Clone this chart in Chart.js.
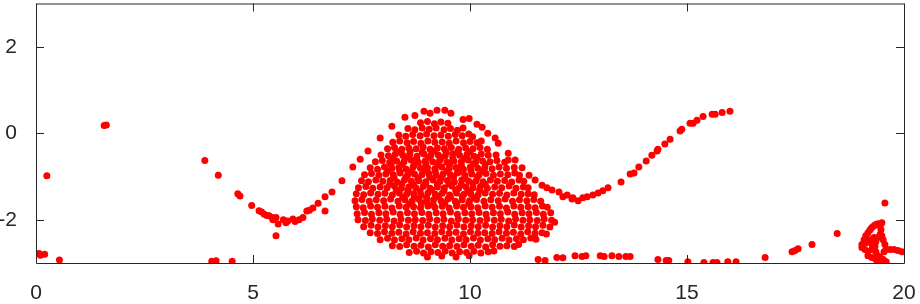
<!DOCTYPE html>
<html lang="en">
<head>
<meta charset="UTF-8">
<title>Scatter</title>
<script src="https://cdn.jsdelivr.net/npm/chart.js@4.4.1/dist/chart.umd.min.js"></script>
<style>
  body { margin: 0; background: #fff; }
  canvas { display: block; }
</style>
</head>
<body>
<canvas id="plot" width="920" height="304"></canvas>
<script>
// tick labels
const xTicks = [0, 5, 10, 15, 20];
const yTicks = [-2, 0, 2];

// stray points on the left
const leftPts = [
  [0.07,-2.78],[0.1,-2.82],[0.2,-2.8],[0.25,-0.98],[0.54,-2.93],[1.57,0.18],[1.62,0.19],
  [3.89,-0.63],[4.2,-0.97],[4.05,-2.96],[4.15,-2.95],[4.52,-2.96]
];

// the wavy trail: valley, arc over the blob, rise to the right
const trailPts = [
  [4.65,-1.4],[4.7,-1.45],[4.97,-1.67],[5.14,-1.79],[5.2,-1.82],[5.26,-1.87],[5.32,-1.9],[5.37,-1.91],
  [5.44,-1.95],[5.46,-2.0],[5.53,-1.95],[5.53,-2.37],[5.58,-2.1],[5.7,-2.0],[5.76,-2.07],[5.8,-2.03],
  [5.92,-1.98],[5.97,-2.04],[6.06,-2.0],[6.15,-1.95],[6.24,-1.8],[6.3,-1.78],[6.38,-1.73],[6.5,-1.62],
  [6.66,-1.47],[6.82,-1.36],[6.66,-1.8],[7.05,-1.1],[7.3,-0.78],[7.47,-0.6],[7.65,-0.41],[7.93,-0.11],
  [8.2,0.16],[8.5,0.37],[8.73,0.41],[8.94,0.51],[9.08,0.46],[9.24,0.53],[9.42,0.53],[9.56,0.46],
  [9.84,0.32],[9.98,0.34],[10.16,0.21],[10.28,0.14],[10.41,0.0],[10.58,-0.11],[10.65,-0.23],[10.88,-0.46],
  [11.04,-0.62],[11.2,-0.8],[11.36,-0.97],[11.5,-1.08],[11.66,-1.2],[11.77,-1.26],[11.89,-1.31],[12.05,-1.36],
  [12.14,-1.47],[12.24,-1.43],[12.35,-1.52],[12.37,-1.49],[12.49,-1.56],[12.6,-1.49],[12.7,-1.47],[12.83,-1.43],
  [12.95,-1.38],[13.06,-1.33],[13.18,-1.26],[13.48,-1.13],[13.69,-0.94],[13.78,-0.92],[13.89,-0.78],[14.06,-0.64],
  [14.19,-0.51],[14.31,-0.41],[14.33,-0.37],[14.49,-0.25],[14.61,-0.14],[14.84,0.05],[14.88,0.09],[15.07,0.23],
  [15.14,0.23],[15.23,0.3],[15.37,0.39],[15.58,0.44],[15.65,0.44],[15.81,0.48],[15.99,0.51]
];

// points hugging the bottom edge, right half
const bottomPts = [
  [11.57,-2.92],[11.73,-2.94],[12.0,-2.87],[12.14,-2.88],[12.42,-2.83],[12.58,-2.85],[12.67,-2.83],[13.0,-2.83],
  [13.09,-2.85],[13.27,-2.83],[13.43,-2.85],[13.59,-2.85],[13.69,-2.85],[14.33,-2.92],[14.52,-2.94],[14.58,-2.94],
  [15.02,-2.97],[15.39,-2.99],[15.6,-2.99],[15.69,-2.99],[15.94,-2.97],[16.13,-2.97],[16.8,-2.87],[17.42,-2.74],
  [17.49,-2.71],[17.56,-2.67],[17.88,-2.57],[18.46,-2.32],[19.56,-1.61]
];

// small knot near x = 19.5
const knotPts = [
  [19.03,-2.57],[19.08,-2.46],[19.12,-2.37],[19.17,-2.3],[19.22,-2.23],[19.26,-2.18],[19.31,-2.14],[19.35,-2.11],
  [19.4,-2.09],[19.45,-2.14],[19.47,-2.23],[19.45,-2.34],[19.4,-2.41],[19.35,-2.51],[19.33,-2.62],[19.35,-2.74],
  [19.4,-2.83],[19.45,-2.87],[19.52,-2.92],[19.59,-2.97],[19.26,-2.69],[19.17,-2.74],[19.1,-2.69],[19.03,-2.64],
  [19.12,-2.53],[19.22,-2.46],[19.31,-2.41],[19.26,-2.57],[19.17,-2.83],[19.26,-2.87],[19.35,-2.92],[19.45,-2.97],
  [19.54,-2.74],[19.59,-2.69],[19.68,-2.69],[19.77,-2.69],[19.86,-2.71],[19.95,-2.74],[19.56,-2.57],[19.52,-2.46],
  [19.49,-2.37],[19.49,-2.07]
];

// the big dense cloud, read row by row
const blobPts = [
  [8.86,0.24],[9.02,0.27],[9.18,0.22],[9.33,0.26],[9.49,0.23],
  [8.57,0.11],[8.73,0.08],[8.9,0.12],[9.06,0.09],[9.22,0.12],[9.4,0.08],[9.55,0.11],[9.71,0.07],[9.84,0.12],
  [8.36,-0.04],[8.52,-0.07],[8.68,-0.03],[8.85,-0.06],[9.0,-0.02],[9.17,-0.06],[9.33,-0.04],[9.5,-0.07],[9.66,-0.03],[9.82,-0.06],[9.97,-0.02],[10.06,-0.08],
  [8.22,-0.21],[8.38,-0.18],[8.55,-0.22],[8.7,-0.19],[8.87,-0.23],[9.03,-0.18],[9.19,-0.21],[9.36,-0.2],[9.52,-0.23],[9.68,-0.18],[9.85,-0.22],[10.0,-0.19],[10.16,-0.22],[10.26,-0.18],
  [8.1,-0.36],[8.26,-0.33],[8.43,-0.37],[8.59,-0.34],[8.76,-0.36],[8.92,-0.32],[9.08,-0.37],[9.25,-0.34],[9.41,-0.36],[9.57,-0.33],[9.74,-0.37],[9.9,-0.34],[10.07,-0.36],[10.23,-0.33],[10.4,-0.37],
  [7.95,-0.5],[8.12,-0.52],[8.28,-0.48],[8.45,-0.51],[8.61,-0.49],[8.78,-0.53],[8.94,-0.48],[9.1,-0.51],[9.27,-0.5],[9.43,-0.52],[9.6,-0.48],[9.76,-0.51],[9.93,-0.49],[10.09,-0.53],[10.26,-0.48],[10.42,-0.51],[10.6,-0.5],
  [7.82,-0.66],[7.98,-0.63],[8.15,-0.67],[8.31,-0.64],[8.48,-0.66],[8.64,-0.62],[8.81,-0.67],[8.97,-0.64],[9.14,-0.66],[9.3,-0.63],[9.47,-0.67],[9.63,-0.64],[9.8,-0.66],[9.96,-0.62],[10.13,-0.67],[10.29,-0.64],[10.46,-0.66],[10.62,-0.63],[10.8,-0.67],[10.88,-0.62],
  [7.7,-0.8],[7.87,-0.83],[8.03,-0.78],[8.2,-0.81],[8.36,-0.79],[8.53,-0.83],[8.69,-0.78],[8.86,-0.81],[9.02,-0.8],[9.19,-0.82],[9.35,-0.78],[9.52,-0.81],[9.68,-0.79],[9.85,-0.83],[10.01,-0.78],[10.18,-0.81],[10.34,-0.8],[10.51,-0.82],[10.67,-0.78],[10.84,-0.81],[11.02,-0.79],
  [7.57,-0.96],[7.73,-0.93],[7.9,-0.97],[8.06,-0.94],[8.23,-0.96],[8.39,-0.92],[8.56,-0.97],[8.72,-0.94],[8.89,-0.96],[9.05,-0.93],[9.22,-0.97],[9.38,-0.94],[9.55,-0.96],[9.71,-0.92],[9.88,-0.97],[10.04,-0.94],[10.21,-0.96],[10.37,-0.93],[10.54,-0.97],[10.7,-0.94],[10.87,-0.96],[11.03,-0.92],[11.14,-0.97],
  [7.5,-1.1],[7.66,-1.12],[7.83,-1.08],[7.99,-1.11],[8.16,-1.09],[8.32,-1.13],[8.49,-1.08],[8.65,-1.11],[8.82,-1.1],[8.98,-1.12],[9.15,-1.08],[9.31,-1.11],[9.48,-1.09],[9.64,-1.13],[9.81,-1.08],[9.97,-1.11],[10.14,-1.1],[10.3,-1.12],[10.47,-1.08],[10.63,-1.11],[10.8,-1.09],[10.96,-1.13],[11.13,-1.08],[11.24,-1.11],
  [7.43,-1.26],[7.6,-1.23],[7.76,-1.27],[7.93,-1.24],[8.09,-1.26],[8.26,-1.22],[8.42,-1.27],[8.59,-1.24],[8.75,-1.26],[8.92,-1.23],[9.08,-1.27],[9.25,-1.24],[9.41,-1.26],[9.58,-1.22],[9.74,-1.27],[9.91,-1.24],[10.07,-1.26],[10.24,-1.23],[10.4,-1.27],[10.57,-1.24],[10.73,-1.26],[10.9,-1.22],[11.06,-1.27],[11.23,-1.24],[11.34,-1.26],
  [7.38,-1.4],[7.55,-1.42],[7.71,-1.38],[7.88,-1.41],[8.04,-1.39],[8.21,-1.43],[8.37,-1.38],[8.54,-1.41],[8.7,-1.4],[8.87,-1.42],[9.03,-1.38],[9.2,-1.41],[9.36,-1.39],[9.53,-1.43],[9.69,-1.38],[9.86,-1.41],[10.02,-1.4],[10.19,-1.42],[10.35,-1.38],[10.52,-1.41],[10.68,-1.39],[10.85,-1.43],[11.01,-1.38],[11.18,-1.41],[11.34,-1.4],[11.48,-1.42],
  [7.35,-1.56],[7.51,-1.53],[7.68,-1.57],[7.84,-1.54],[8.01,-1.56],[8.17,-1.52],[8.34,-1.57],[8.5,-1.54],[8.67,-1.56],[8.83,-1.53],[9.0,-1.57],[9.16,-1.54],[9.33,-1.56],[9.49,-1.52],[9.66,-1.57],[9.82,-1.54],[9.99,-1.56],[10.15,-1.53],[10.32,-1.57],[10.48,-1.54],[10.65,-1.56],[10.81,-1.52],[10.98,-1.57],[11.14,-1.54],[11.31,-1.56],[11.47,-1.53],[11.63,-1.57],
  [7.38,-1.7],[7.54,-1.72],[7.71,-1.68],[7.87,-1.71],[8.04,-1.69],[8.2,-1.73],[8.37,-1.68],[8.53,-1.71],[8.7,-1.7],[8.86,-1.72],[9.03,-1.68],[9.19,-1.71],[9.36,-1.69],[9.52,-1.73],[9.69,-1.68],[9.85,-1.71],[10.02,-1.7],[10.18,-1.72],[10.35,-1.68],[10.51,-1.71],[10.68,-1.69],[10.84,-1.73],[11.01,-1.68],[11.17,-1.71],[11.34,-1.7],[11.5,-1.72],[11.67,-1.68],[11.78,-1.71],
  [7.4,-1.86],[7.57,-1.83],[7.73,-1.87],[7.9,-1.84],[8.06,-1.86],[8.23,-1.82],[8.39,-1.87],[8.56,-1.84],[8.72,-1.86],[8.89,-1.83],[9.05,-1.87],[9.22,-1.84],[9.38,-1.86],[9.55,-1.82],[9.71,-1.87],[9.88,-1.84],[10.04,-1.86],[10.21,-1.83],[10.37,-1.87],[10.54,-1.84],[10.7,-1.86],[10.87,-1.82],[11.03,-1.87],[11.2,-1.84],[11.36,-1.86],[11.53,-1.83],[11.69,-1.87],[11.86,-1.84],
  [7.42,-2.0],[7.59,-2.02],[7.75,-1.98],[7.92,-2.01],[8.08,-1.99],[8.25,-2.03],[8.41,-1.98],[8.58,-2.01],[8.74,-2.0],[8.91,-2.02],[9.07,-1.98],[9.24,-2.01],[9.4,-1.99],[9.57,-2.03],[9.73,-1.98],[9.9,-2.01],[10.06,-2.0],[10.23,-2.02],[10.39,-1.98],[10.56,-2.01],[10.72,-1.99],[10.89,-2.03],[11.05,-1.98],[11.22,-2.01],[11.38,-2.0],[11.55,-2.02],[11.71,-1.98],[11.88,-2.01],[11.95,-2.06],
  [7.55,-2.16],[7.72,-2.13],[7.88,-2.17],[8.05,-2.14],[8.21,-2.16],[8.38,-2.12],[8.54,-2.17],[8.71,-2.14],[8.87,-2.16],[9.04,-2.13],[9.2,-2.17],[9.37,-2.14],[9.53,-2.16],[9.7,-2.12],[9.86,-2.17],[10.03,-2.14],[10.19,-2.16],[10.36,-2.13],[10.52,-2.17],[10.69,-2.14],[10.85,-2.16],[11.02,-2.12],[11.18,-2.17],[11.35,-2.14],[11.51,-2.16],[11.68,-2.13],[11.84,-2.17],
  [7.7,-2.3],[7.87,-2.32],[8.03,-2.28],[8.2,-2.31],[8.36,-2.29],[8.53,-2.33],[8.69,-2.28],[8.86,-2.31],[9.02,-2.3],[9.19,-2.32],[9.35,-2.28],[9.52,-2.31],[9.68,-2.29],[9.85,-2.33],[10.01,-2.28],[10.18,-2.31],[10.34,-2.3],[10.51,-2.32],[10.67,-2.28],[10.84,-2.31],[11.0,-2.29],[11.17,-2.33],[11.33,-2.28],[11.5,-2.31],[11.66,-2.3],[11.76,-2.33],
  [7.93,-2.46],[8.1,-2.43],[8.26,-2.47],[8.43,-2.44],[8.59,-2.46],[8.76,-2.42],[8.92,-2.47],[9.09,-2.44],[9.25,-2.46],[9.42,-2.43],[9.58,-2.47],[9.75,-2.44],[9.91,-2.46],[10.08,-2.42],[10.24,-2.47],[10.41,-2.44],[10.57,-2.46],[10.74,-2.43],[10.9,-2.47],[11.07,-2.44],[11.23,-2.46],[11.4,-2.42],[11.52,-2.45],
  [8.21,-2.6],[8.38,-2.62],[8.54,-2.58],[8.71,-2.61],[8.87,-2.59],[9.04,-2.63],[9.2,-2.58],[9.37,-2.61],[9.53,-2.6],[9.7,-2.62],[9.86,-2.58],[10.03,-2.61],[10.19,-2.59],[10.36,-2.63],[10.52,-2.58],[10.69,-2.61],[10.85,-2.6],[11.02,-2.62],[11.12,-2.57],
  [8.6,-2.76],[8.77,-2.73],[8.93,-2.77],[9.1,-2.74],[9.26,-2.76],[9.43,-2.72],[9.59,-2.77],[9.76,-2.74],[9.92,-2.76],[10.09,-2.73],[10.25,-2.77],[10.42,-2.74],[10.55,-2.72],
  [9.02,-2.86],[9.35,-2.84],[9.68,-2.86],[9.98,-2.83]
];

// extra points where the cloud is solid (around x 8.3-10.4)
const corePts = [
  [8.35,-0.43],[8.62,-0.42],[8.9,-0.44],[9.17,-0.41],[9.45,-0.44],[9.72,-0.42],[10.0,-0.43],
  [8.22,-0.58],[8.5,-0.57],[8.77,-0.59],[9.05,-0.56],[9.33,-0.58],[9.6,-0.57],[9.88,-0.59],[10.16,-0.56],
  [8.18,-0.73],[8.44,-0.72],[8.71,-0.74],[8.98,-0.71],[9.26,-0.73],[9.53,-0.72],[9.8,-0.74],[10.08,-0.71],[10.35,-0.73],
  [8.1,-0.88],[8.38,-0.87],[8.65,-0.89],[8.93,-0.86],[9.2,-0.88],[9.47,-0.87],[9.75,-0.89],[10.02,-0.86],[10.3,-0.88],
  [8.25,-1.03],[8.52,-1.02],[8.8,-1.04],[9.07,-1.01],[9.34,-1.03],[9.62,-1.02],[9.89,-1.04],[10.17,-1.01],
  [8.15,-1.18],[8.43,-1.17],[8.7,-1.19],[8.98,-1.16],[9.25,-1.18],[9.52,-1.17],[9.8,-1.19],[10.07,-1.16],[10.35,-1.18],
  [8.3,-1.33],[8.57,-1.32],[8.85,-1.34],[9.12,-1.31],[9.4,-1.33],[9.67,-1.32],[9.95,-1.34],[10.22,-1.31],
  [8.45,-1.48],[8.72,-1.47],[9.0,-1.49],[9.27,-1.46],[9.55,-1.48],[9.82,-1.47],[10.1,-1.49],
  [8.6,-1.63],[8.88,-1.62],[9.15,-1.64],[9.42,-1.61],[9.7,-1.63],[9.97,-1.62]
];

const allPts = [].concat(leftPts, trailPts, bottomPts, knotPts, blobPts, corePts).map(p => ({ x: p[0], y: p[1] }));

const axisColor = '#262626';

// MATLAB-style box with inward ticks on all four sides
const boxPlugin = {
  id: 'box',
  afterDatasetsDraw(chart) {
    const { ctx, chartArea: a, scales } = chart;
    const len = 8;
    ctx.save();
    ctx.strokeStyle = axisColor;
    ctx.lineWidth = 1;
    ctx.beginPath();
    ctx.rect(a.left + 0.5, a.top + 0.5, a.right - a.left, a.bottom - a.top);
    xTicks.forEach(v => {
      const px = Math.round(scales.x.getPixelForValue(v)) + 0.5;
      ctx.moveTo(px, a.bottom); ctx.lineTo(px, a.bottom - len);
      ctx.moveTo(px, a.top); ctx.lineTo(px, a.top + len);
    });
    yTicks.forEach(v => {
      const py = Math.round(scales.y.getPixelForValue(v)) + 0.5;
      ctx.moveTo(a.left, py); ctx.lineTo(a.left + len, py);
      ctx.moveTo(a.right, py); ctx.lineTo(a.right - len, py);
    });
    ctx.stroke();
    ctx.restore();
  }
};

new Chart(document.getElementById('plot'), {
  type: 'scatter',
  data: {
    datasets: [{
      data: allPts,
      backgroundColor: '#ff0000',
      borderWidth: 0,
      pointRadius: 3.5,
      pointHoverRadius: 3.5
    }]
  },
  options: {
    responsive: false,
    animation: false,
    devicePixelRatio: 1,
    layout: { padding: { top: 3, right: 16, left: 0, bottom: 0 } },
    plugins: { legend: { display: false }, tooltip: { enabled: false } },
    scales: {
      x: {
        type: 'linear',
        min: 0, max: 20,
        afterBuildTicks: s => { s.ticks = xTicks.map(v => ({ value: v })); },
        afterFit: s => { s.height = 41; s.paddingLeft = 0; s.paddingRight = 0; },
        grid: { display: false },
        border: { display: false },
        ticks: { color: axisColor, padding: 10, maxRotation: 0, font: { family: 'Arial, "Liberation Sans"', size: 21 } }
      },
      y: {
        min: -3, max: 3,
        afterBuildTicks: s => { s.ticks = yTicks.map(v => ({ value: v })); },
        afterFit: s => { s.width = 36; s.paddingTop = 0; s.paddingBottom = 0; },
        grid: { display: false },
        border: { display: false },
        ticks: { color: axisColor, padding: 11, font: { family: 'Arial, "Liberation Sans"', size: 21 } }
      }
    }
  },
  plugins: [boxPlugin]
});
</script>
</body>
</html>
